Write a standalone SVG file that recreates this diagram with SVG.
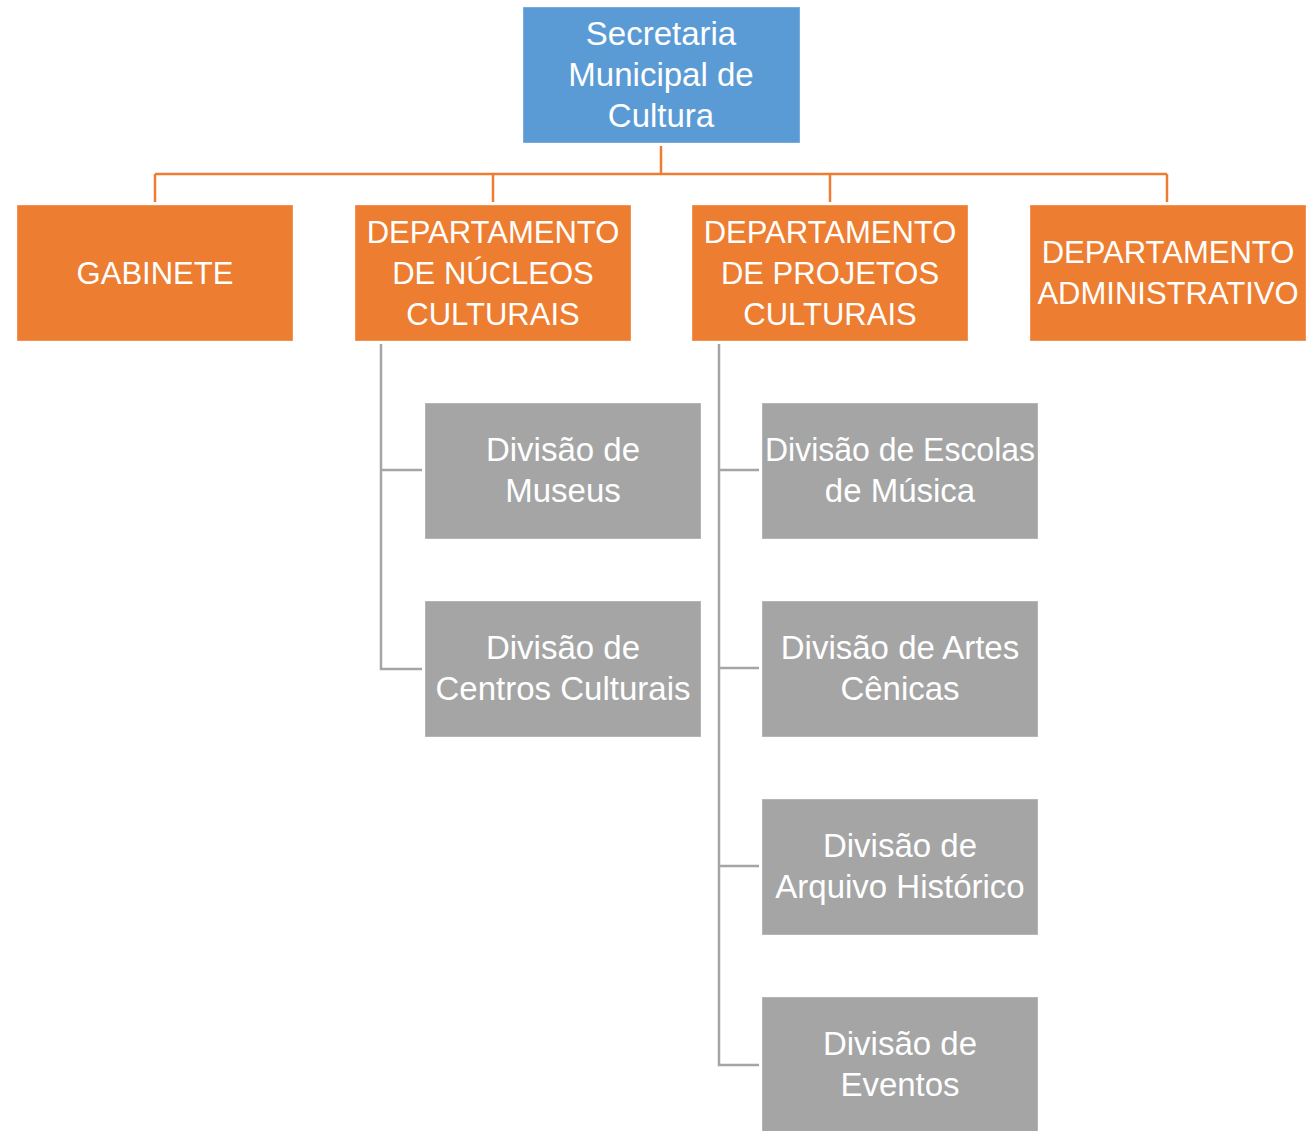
<svg xmlns="http://www.w3.org/2000/svg" width="1309" height="1131" viewBox="0 0 1309 1131">
<style>
.box{stroke:#ffffff;stroke-opacity:0.35;stroke-width:1}
.blue{fill:#5B9BD5}
.orange{fill:#ED7D31}
.gray{fill:#A5A5A5}
text{font-family:"Liberation Sans",Arial,sans-serif;fill:#ffffff;text-anchor:middle}
.up{font-size:31px}
.lo{font-size:33px}
.oc{stroke:#ED7D31;stroke-width:2.5;fill:none}
.gc{stroke:#A5A5A5;stroke-width:2.5;fill:none}
</style>
<rect width="1309" height="1131" fill="#ffffff"/>
<g id="connectors">
<path class="oc" d="M661,146 V174 M155,174 H1167 M155,174 V202 M493,174 V202 M830,174 V202 M1167,174 V202"/>
<path class="gc" d="M381,344 V669 H422 M381,470 H422"/>
<path class="gc" d="M719,344 V1065 H759 M719,470 H759 M719,668 H759 M719,866 H759"/>
</g>
<g id="secretaria">
<rect class="box blue" x="523" y="7" width="277" height="136"/>
<text class="lo" x="661" y="45">Secretaria</text>
<text class="lo" x="661" y="86">Municipal de</text>
<text class="lo" x="661" y="127">Cultura</text>
</g>
<g id="gabinete">
<rect class="box orange" x="17" y="205" width="276" height="136"/>
<text class="up" x="155" y="284">GABINETE</text>
</g>
<g id="dep-nucleos">
<rect class="box orange" x="355" y="205" width="276" height="136"/>
<text class="up" x="493" y="243">DEPARTAMENTO</text>
<text class="up" x="493" y="284">DE NÚCLEOS</text>
<text class="up" x="493" y="325">CULTURAIS</text>
</g>
<g id="dep-projetos">
<rect class="box orange" x="692" y="205" width="276" height="136"/>
<text class="up" x="830" y="243">DEPARTAMENTO</text>
<text class="up" x="830" y="284">DE PROJETOS</text>
<text class="up" x="830" y="325">CULTURAIS</text>
</g>
<g id="dep-admin">
<rect class="box orange" x="1030" y="205" width="276" height="136"/>
<text class="up" x="1168" y="263">DEPARTAMENTO</text>
<text class="up" x="1168" y="304">ADMINISTRATIVO</text>
</g>
<g id="div-museus">
<rect class="box gray" x="425" y="403" width="276" height="136"/>
<text class="lo" x="563" y="461">Divisão de</text>
<text class="lo" x="563" y="502">Museus</text>
</g>
<g id="div-centros">
<rect class="box gray" x="425" y="601" width="276" height="136"/>
<text class="lo" x="563" y="659">Divisão de</text>
<text class="lo" x="563" y="700">Centros Culturais</text>
</g>
<g id="div-escolas">
<rect class="box gray" x="762" y="403" width="276" height="136"/>
<text class="lo" x="900" y="461" textLength="270" lengthAdjust="spacingAndGlyphs">Divisão de Escolas</text>
<text class="lo" x="900" y="502">de Música</text>
</g>
<g id="div-artes">
<rect class="box gray" x="762" y="601" width="276" height="136"/>
<text class="lo" x="900" y="659">Divisão de Artes</text>
<text class="lo" x="900" y="700">Cênicas</text>
</g>
<g id="div-arquivo">
<rect class="box gray" x="762" y="799" width="276" height="136"/>
<text class="lo" x="900" y="857">Divisão de</text>
<text class="lo" x="900" y="898">Arquivo Histórico</text>
</g>
<g id="div-eventos">
<rect class="box gray" x="762" y="997" width="276" height="136"/>
<text class="lo" x="900" y="1055">Divisão de</text>
<text class="lo" x="900" y="1096">Eventos</text>
</g>
</svg>
